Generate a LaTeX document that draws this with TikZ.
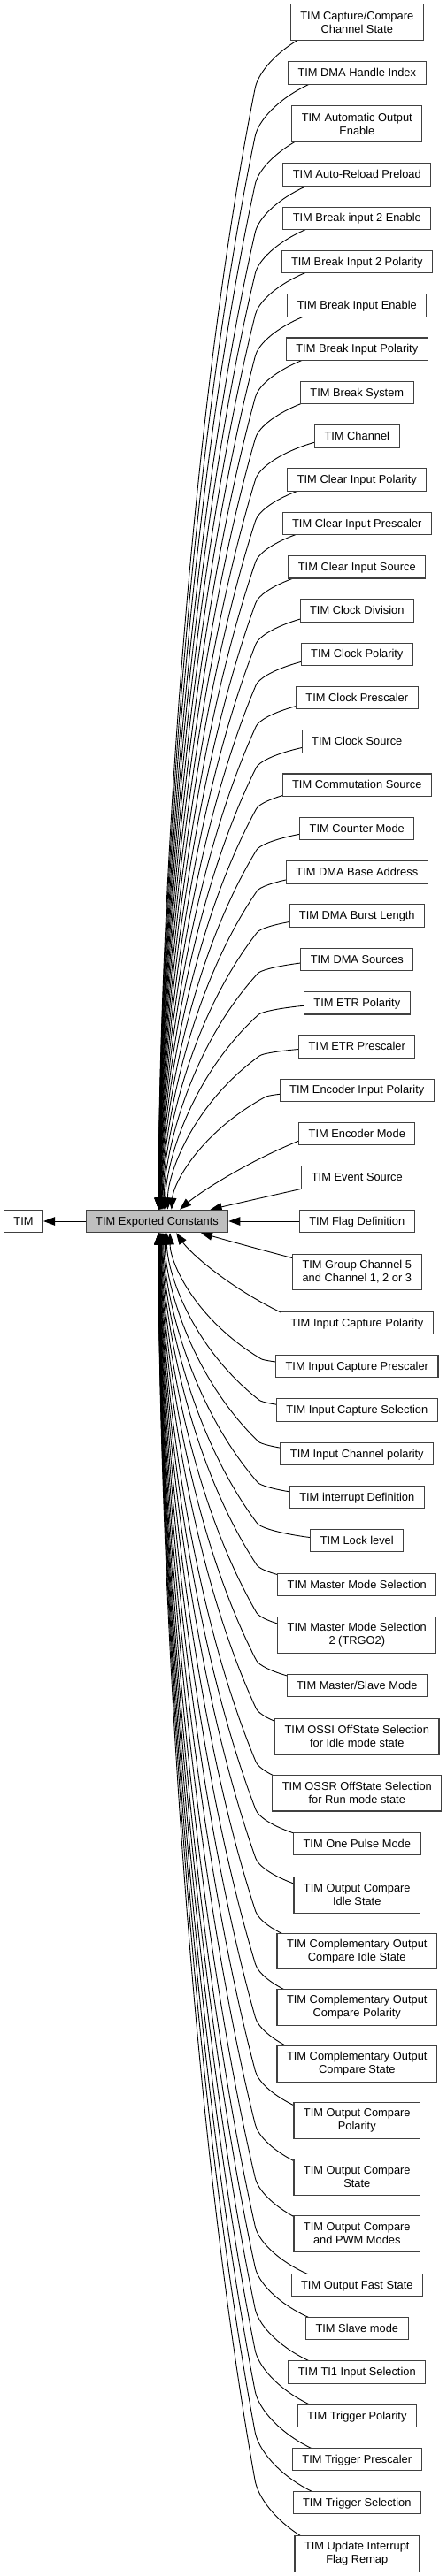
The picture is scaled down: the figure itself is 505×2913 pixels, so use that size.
\documentclass[tikz,border=0pt]{standalone}
\usepackage{fontspec}
\setmainfont{Liberation Sans}
\usetikzlibrary{arrows.meta}
\pgfdeclarelayer{background}
\pgfsetlayers{background,main}
\definecolor{greyfill}{HTML}{BFBFBF}
\definecolor{boxline}{HTML}{404040}
\tikzset{
 nbox/.style={draw=boxline, line width=1.1pt, fill=white, inner xsep=11pt, inner ysep=0pt,
   font=\fontsize{12.85}{15}\selectfont, text height=9.3pt, text depth=1pt, minimum height=25.5pt},
 nboxtwo/.style={draw=boxline, line width=1.1pt, fill=white, inner xsep=11pt, inner ysep=0pt,
   font=\fontsize{12.85}{15}\selectfont, align=center, minimum height=40.5pt},
 conn/.style={draw=black, line width=0.9pt, -{Triangle[length=13pt,width=9.5pt]}},
}
% #1 node name, #2 node centre y, #3 = 1 (node above target) or 0 (node below)
\newcommand\curveedge[3]{%
 \ifnum#3=1
   \pgfmathsetmacro\edD{1368-#2}\def\edSg{1}\def\edAn{north}%
 \else
   \pgfmathsetmacro\edD{#2-1394}\def\edSg{-1}\def\edAn{south}%
 \fi
 \pgfmathsetmacro\edXE{177.5+2200/\edD}%
 \pgfmathsetmacro\edL{min(1,max(0,(\edD-30)/110))}%
 \pgfmathsetmacro\edW{403.3-\edXE}%
 \pgfmathsetmacro\eAx{403.3-(\edL*0.236)*\edW}%
 \pgfmathsetmacro\eAy{#2}%
 \pgfmathsetmacro\eBx{403.3-(\edL*0.486+(1-\edL)*0.032)*\edW}%
 \pgfmathsetmacro\eBy{#2+\edSg*0.032*\edD}%
 \pgfmathsetmacro\eKx{403.3-(\edL*0.514+(1-\edL)*0.056)*\edW}%
 \pgfmathsetmacro\eKy{#2+\edSg*0.056*\edD}%
 \pgfmathsetmacro\eCx{403.3-(\edL*0.868+(1-\edL)*0.354)*\edW}%
 \pgfmathsetmacro\eCy{#2+\edSg*0.354*\edD}%
 \pgfmathsetmacro\eDx{403.3-(\edL*1+(1-\edL)*0.777)*\edW}%
 \pgfmathsetmacro\eDy{#2+\edSg*0.777*\edD}%
 \pgfmathsetmacro\edS{\edXE-177.5}%
 \draw[conn] (#1.center) .. controls (\eAx,\eAy) and (\eBx,\eBy) .. (\eKx,\eKy)
   .. controls (\eCx,\eCy) and (\eDx,\eDy) .. ([xshift=\edS pt]ec.\edAn);
}
\begin{document}
\begin{tikzpicture}[x=1pt,y=-1pt]
\useasboundingbox (0,0) rectangle (505,2913);
\node[nbox] (tim) at (26.5,1381) {TIM};
\node[nbox,fill=greyfill] (ec) at (177.5,1381) {TIM Exported Constants};

\node[nboxtwo] (n1) at (403.3,25) {TIM Capture/Compare\\Channel State};
\node[nbox] (n2) at (403.3,82.5) {TIM DMA Handle Index};
\node[nboxtwo] (n3) at (403.3,140) {TIM Automatic Output\\Enable};
\node[nbox] (n4) at (403.3,197.5) {TIM Auto-Reload Preload};
\node[nbox] (n5) at (403.3,246.8) {TIM Break input 2 Enable};
\node[nbox] (n6) at (403.3,296.1) {TIM Break Input 2 Polarity};
\node[nbox] (n7) at (403.3,345.4) {TIM Break Input Enable};
\node[nbox] (n8) at (403.3,394.7) {TIM Break Input Polarity};
\node[nbox] (n9) at (403.3,444.0) {TIM Break System};
\node[nbox] (n10) at (403.3,493.3) {TIM Channel};
\node[nbox] (n11) at (403.3,542.6) {TIM Clear Input Polarity};
\node[nbox] (n12) at (403.3,591.9) {TIM Clear Input Prescaler};
\node[nbox] (n13) at (403.3,641.2) {TIM Clear Input Source};
\node[nbox] (n14) at (403.3,690.5) {TIM Clock Division};
\node[nbox] (n15) at (403.3,739.8) {TIM Clock Polarity};
\node[nbox] (n16) at (403.3,789.1) {TIM Clock Prescaler};
\node[nbox] (n17) at (403.3,838.4) {TIM Clock Source};
\node[nbox] (n18) at (403.3,887.7) {TIM Commutation Source};
\node[nbox] (n19) at (403.3,937.0) {TIM Counter Mode};
\node[nbox] (n20) at (403.3,986.3) {TIM DMA Base Address};
\node[nbox] (n21) at (403.3,1035.6) {TIM DMA Burst Length};
\node[nbox] (n22) at (403.3,1084.9) {TIM DMA Sources};
\node[nbox] (n23) at (403.3,1134.2) {TIM ETR Polarity};
\node[nbox] (n24) at (403.3,1183.5) {TIM ETR Prescaler};
\node[nbox] (n25) at (403.3,1232.8) {TIM Encoder Input Polarity};
\node[nbox] (n26) at (403.3,1282.1) {TIM Encoder Mode};
\node[nbox] (n27) at (403.3,1331.4) {TIM Event Source};
\node[nbox] (n28) at (403.3,1381) {TIM Flag Definition};
\node[nboxtwo] (n29) at (403.3,1438.5) {TIM Group Channel 5\\and Channel 1, 2 or 3};
\node[nbox] (n30) at (403.3,1496) {TIM Input Capture Polarity};
\node[nbox] (n31) at (403.3,1545) {TIM Input Capture Prescaler};
\node[nbox] (n32) at (403.3,1594.5) {TIM Input Capture Selection};
\node[nbox] (n33) at (403.3,1644) {TIM Input Channel polarity};
\node[nbox] (n34) at (403.3,1693) {TIM interrupt Definition};
\node[nbox] (n35) at (403.3,1742) {TIM Lock level};
\node[nbox] (n36) at (403.3,1792) {TIM Master Mode Selection};
\node[nboxtwo] (n37) at (403.3,1849) {TIM Master Mode Selection\\2 (TRGO2)};
\node[nbox] (n38) at (403.3,1906) {TIM Master/Slave Mode};
\node[nboxtwo] (n39) at (403.3,1963.7) {TIM OSSI OffState Selection\\for Idle mode state};
\node[nboxtwo] (n40) at (403.3,2027.7) {TIM OSSR OffState Selection\\for Run mode state};
\node[nbox] (n41) at (403.3,2085) {TIM One Pulse Mode};
\node[nboxtwo] (n42) at (403.3,2143) {TIM Output Compare\\Idle State};
\node[nboxtwo] (n43) at (403.3,2206.5) {TIM Complementary Output\\Compare Idle State};
\node[nboxtwo] (n44) at (403.3,2270) {TIM Complementary Output\\Compare Polarity};
\node[nboxtwo] (n45) at (403.3,2334) {TIM Complementary Output\\Compare State};
\node[nboxtwo] (n46) at (403.3,2398) {TIM Output Compare\\Polarity};
\node[nboxtwo] (n47) at (403.3,2462) {TIM Output Compare\\State};
\node[nboxtwo] (n48) at (403.3,2526) {TIM Output Compare\\and PWM Modes};
\node[nbox] (n49) at (403.3,2584) {TIM Output Fast State};
\node[nbox] (n50) at (403.3,2633) {TIM Slave mode};
\node[nbox] (n51) at (403.3,2682.5) {TIM TI1 Input Selection};
\node[nbox] (n52) at (403.3,2732) {TIM Trigger Polarity};
\node[nbox] (n53) at (403.3,2781) {TIM Trigger Prescaler};
\node[nbox] (n54) at (403.3,2830) {TIM Trigger Selection};
\node[nboxtwo] (n55) at (403.3,2888) {TIM Update Interrupt\\Flag Remap};

\begin{pgfonlayer}{background}
\draw[conn] (ec) -- (tim);
\draw[conn] (n28) -- (ec);
\curveedge{n1}{25}{1}
\curveedge{n2}{82.5}{1}
\curveedge{n3}{140}{1}
\curveedge{n4}{197.5}{1}
\curveedge{n5}{246.8}{1}
\curveedge{n6}{296.1}{1}
\curveedge{n7}{345.4}{1}
\curveedge{n8}{394.7}{1}
\curveedge{n9}{444.0}{1}
\curveedge{n10}{493.3}{1}
\curveedge{n11}{542.6}{1}
\curveedge{n12}{591.9}{1}
\curveedge{n13}{641.2}{1}
\curveedge{n14}{690.5}{1}
\curveedge{n15}{739.8}{1}
\curveedge{n16}{789.1}{1}
\curveedge{n17}{838.4}{1}
\curveedge{n18}{887.7}{1}
\curveedge{n19}{937.0}{1}
\curveedge{n20}{986.3}{1}
\curveedge{n21}{1035.6}{1}
\curveedge{n22}{1084.9}{1}
\curveedge{n23}{1134.2}{1}
\curveedge{n24}{1183.5}{1}
\curveedge{n25}{1232.8}{1}
\curveedge{n26}{1282.1}{1}
\curveedge{n27}{1331.4}{1}
\curveedge{n29}{1438.5}{0}
\curveedge{n30}{1496}{0}
\curveedge{n31}{1545}{0}
\curveedge{n32}{1594.5}{0}
\curveedge{n33}{1644}{0}
\curveedge{n34}{1693}{0}
\curveedge{n35}{1742}{0}
\curveedge{n36}{1792}{0}
\curveedge{n37}{1849}{0}
\curveedge{n38}{1906}{0}
\curveedge{n39}{1963.7}{0}
\curveedge{n40}{2027.7}{0}
\curveedge{n41}{2085}{0}
\curveedge{n42}{2143}{0}
\curveedge{n43}{2206.5}{0}
\curveedge{n44}{2270}{0}
\curveedge{n45}{2334}{0}
\curveedge{n46}{2398}{0}
\curveedge{n47}{2462}{0}
\curveedge{n48}{2526}{0}
\curveedge{n49}{2584}{0}
\curveedge{n50}{2633}{0}
\curveedge{n51}{2682.5}{0}
\curveedge{n52}{2732}{0}
\curveedge{n53}{2781}{0}
\curveedge{n54}{2830}{0}
\curveedge{n55}{2888}{0}
\end{pgfonlayer}
\end{tikzpicture}
\end{document}
